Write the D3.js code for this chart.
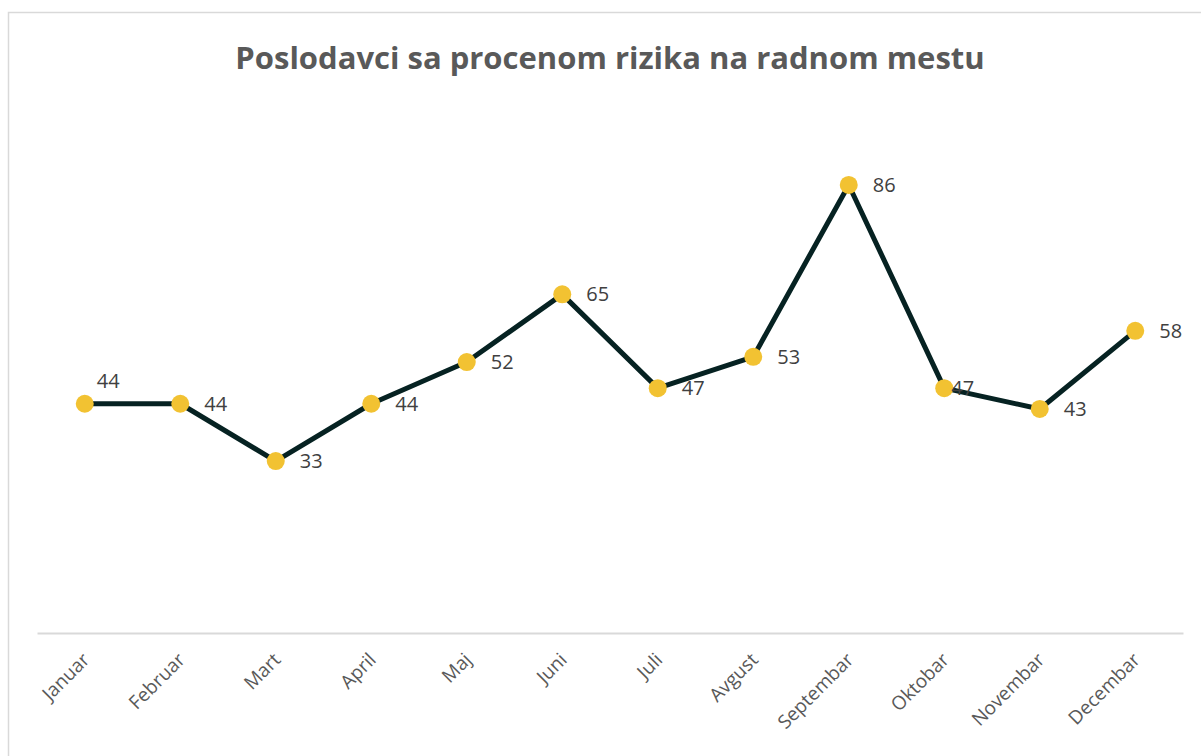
<!DOCTYPE html>
<html>
<head>
<meta charset="utf-8">
<script src="https://cdn.jsdelivr.net/npm/d3@7"></script>
<style>
  body { margin: 0; background: #fff; }
  svg { display: block; font-family: "Open Sans", sans-serif; }
</style>
</head>
<body>
<div id="chart"></div>
<script>
  const months = ['Januar', 'Februar', 'Mart', 'April', 'Maj', 'Juni', 'Juli',
    'Avgust', 'Septembar', 'Oktobar', 'Novembar', 'Decembar'];
  const values = [44, 44, 33, 44, 52, 65, 47, 53, 86, 47, 43, 58];
  const title = 'Poslodavci sa procenom rizika na radnom mestu';

  const width = 1201, height = 756;
  const margin = { top: 112, right: 18, bottom: 123, left: 37 };

  const svg = d3.select('#chart').append('svg')
    .attr('width', width)
    .attr('height', height);

  // chart frame
  svg.append('rect')
    .attr('x', 8.5).attr('y', 12.5)
    .attr('width', width).attr('height', height)
    .attr('fill', 'none')
    .attr('stroke', '#d9d9d9')
    .attr('stroke-width', 1.5);

  svg.append('text')
    .attr('x', 610).attr('y', 69)
    .attr('text-anchor', 'middle')
    .attr('font-size', 31)
    .attr('font-weight', 'bold')
    .attr('fill', '#595959')
    .text(title);

  const x = d3.scaleBand()
    .domain(months)
    .range([margin.left, width - margin.right]);

  const y = d3.scaleLinear()
    .domain([0, 100])
    .range([height - margin.bottom, margin.top]);

  const data = months.map((m, i) => ({ m: m, v: values[i] }));
  const cx = d => x(d.m) + x.bandwidth() / 2;

  // x axis
  const axis = svg.append('g')
    .attr('transform', 'translate(0,' + y(0) + ')')
    .call(d3.axisBottom(x).tickSize(0).tickPadding(0));
  axis.attr('font-size', 19).attr('font-family', '"Open Sans", sans-serif');
  axis.select('.domain').attr('stroke', '#d9d9d9').attr('stroke-width', 2);
  axis.selectAll('text')
    .style('font-size', '19px')
    .attr('fill', '#595959')
    .attr('text-anchor', 'end')
    .attr('dy', null)
    .attr('transform', 'translate(6,28) rotate(-45)');

  const line = d3.line()
    .x(cx)
    .y(d => y(d.v));

  svg.append('path')
    .datum(data)
    .attr('fill', 'none')
    .attr('stroke', '#062222')
    .attr('stroke-width', 5)
    .attr('stroke-linejoin', 'round')
    .attr('d', line);

  svg.selectAll('.dot')
    .data(data)
    .enter()
    .append('circle')
    .attr('class', 'dot')
    .attr('cx', cx)
    .attr('cy', d => y(d.v))
    .attr('r', 9)
    .attr('fill', '#f2c232');

  // data labels, to the right of the markers (first one sits above)
  svg.selectAll('.lbl')
    .data(data)
    .enter()
    .append('text')
    .attr('class', 'lbl')
    .attr('x', (d, i) => cx(d) + (i === 0 ? 12 : (i === 9 ? 7 : 24)))
    .attr('y', (d, i) => y(d.v) + (i === 0 ? -23 : 0))
    .attr('dy', '0.35em')
    .attr('font-size', 20)
    .attr('fill', '#404040')
    .text(d => d.v);
</script>
</body>
</html>
